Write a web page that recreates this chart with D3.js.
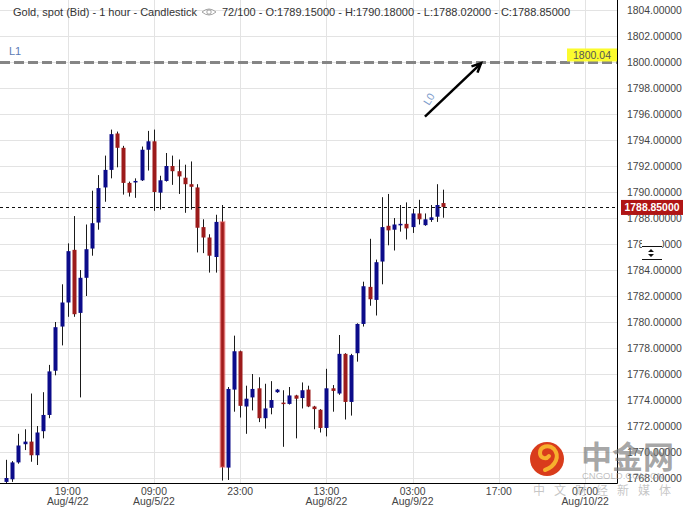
<!DOCTYPE html>
<html><head><meta charset="utf-8">
<script src="https://cdn.jsdelivr.net/npm/d3@7"></script>
<style>
html,body{margin:0;padding:0;background:#fff;}
svg{display:block;font-family:"Liberation Sans",Arial,sans-serif;}
</style></head>
<body>
<svg id="chart" width="686" height="508"></svg>
<script>
// ---- data (hourly candles, Gold spot Bid) ----
const opens  = [1767.7,1767.9,1769.2,1770.6,1770.8,1769.75,1771.6,1772.85,1776.25,1779.65,
  1781.5,1785.55,1780.7,1783.4,1785.65,1787.65,1790.35,1791.7,1794.5,1793.4,
  1790.7,1790.8,1790.9,1793.25,1793.9,1789.95,1790.85,1792.0,1791.6,1791.1,
  1790.6,1790.35,1787.3,1786.5,1785.0,1787.7,1768.8,1774.8,1777.75,1773.5,
  1774.2,1774.9,1772.6,1773.4,1774.6,1773.8,1773.7,1774.35,1774.15,1774.8,
  1773.5,1773.25,1771.85,1774.9,1774.5,1777.55,1773.85,1777.6,1779.85,1782.7,
  1781.7,1784.65,1787.4,1787.1,1787.5,1787.55,1787.3,1788.35,1787.45,1787.85,
  1788.1,1789.15];
const highs  = [1769.4,1769.3,1771.4,1771.75,1774.5,1772.0,1774.6,1776.7,1780.0,1782.9,
  1786.05,1788.15,1784.0,1787.5,1790.1,1791.3,1792.8,1794.8,1794.65,1793.55,
  1790.8,1791.05,1793.5,1794.7,1794.8,1791.25,1793.0,1792.8,1792.5,1792.1,
  1792.35,1790.6,1787.9,1786.75,1788.25,1789.0,1775.0,1778.95,1777.8,1775.1,
  1776.0,1775.75,1775.25,1775.45,1774.85,1774.75,1775.0,1774.4,1775.35,1775.1,
  1773.55,1773.3,1776.4,1775.15,1779.0,1777.6,1777.55,1779.9,1783.1,1786.4,
  1784.8,1789.6,1789.85,1788.0,1789.0,1789.2,1788.7,1789.4,1788.35,1789.0,
  1790.6,1790.18];
const lows   = [1767.6,1767.7,1769.1,1770.15,1769.25,1769.0,1771.05,1772.6,1775.9,1778.2,
  1780.4,1780.4,1774.2,1782.0,1785.1,1787.1,1789.25,1791.05,1791.9,1789.8,
  1789.65,1789.55,1790.85,1791.65,1788.55,1788.65,1790.8,1790.55,1789.85,1788.4,
  1788.65,1785.35,1785.3,1783.8,1783.8,1767.8,1767.85,1773.1,1772.65,1771.4,
  1773.2,1772.3,1771.8,1772.9,1774.55,1770.4,1773.65,1771.05,1773.35,1773.45,
  1771.75,1771.5,1771.2,1773.1,1774.4,1772.5,1772.8,1776.95,1779.65,1781.25,
  1780.5,1782.9,1785.9,1785.5,1786.95,1786.35,1786.85,1787.5,1787.4,1787.7,
  1787.7,1788.02];
const closes = [1768.0,1769.2,1770.5,1770.8,1769.75,1771.5,1772.85,1776.2,1779.6,1781.5,
  1785.45,1780.6,1783.4,1785.6,1787.6,1790.3,1791.7,1794.45,1793.4,1790.7,
  1789.95,1790.85,1793.25,1793.9,1790.0,1790.9,1792.0,1791.6,1791.2,1790.6,
  1790.4,1787.25,1786.5,1785.1,1787.7,1768.85,1774.85,1777.75,1773.55,1774.1,
  1774.85,1772.6,1773.35,1774.0,1774.8,1773.7,1774.35,1774.1,1774.75,1773.5,
  1773.3,1771.85,1774.9,1774.7,1777.55,1773.85,1777.45,1779.85,1782.75,1781.75,
  1784.6,1787.3,1787.05,1787.5,1787.55,1787.2,1788.35,1787.9,1787.9,1788.05,
  1789.0,1788.85];

const slotCount = 100;
const xTickIdx   = [10, 24, 38, 52, 66, 80, 94];
const xTickTimes = ["19:00","09:00","23:00","13:00","03:00","17:00","07:00"];
const xTickDates = ["Aug/4/22","Aug/5/22","","Aug/8/22","Aug/9/22","","Aug/10/22"];
const yTicks = d3.range(1768, 1804.01, 2);
const lastPrice = 1788.85;
const levelL1 = 1800.04;
const arrowL0 = [[68.0, 1795.8], [77.1, 1799.9]];
const highlightIndex = 35;
const headerLeft  = "Gold, spot (Bid) - 1 hour - Candlestick";
const headerRight = "72/100 - O:1789.15000 - H:1790.18000 - L:1788.02000 - C:1788.85000";

// ---- layout ----
const plotL = 0, plotR = 617, plotT = 0, plotB = 483;
const svg = d3.select("#chart");
const x = d3.scaleLinear().domain([-0.5, slotCount - 0.5]).range([3, 619]);
const y = d3.scaleLinear().domain([1768, 1804]).range([478, 10]);
const BLUE = "#0c0c8a", RED = "#9c1b1b";

svg.append("defs").append("clipPath").attr("id","plotclip")
  .append("rect").attr("x",plotL).attr("y",plotT).attr("width",plotR-plotL).attr("height",plotB-plotT);

// grid
const grid = svg.append("g");
grid.selectAll("line.h").data(yTicks).join("line")
  .attr("x1",plotL).attr("x2",plotR).attr("y1",d=>y(d)+0.5).attr("y2",d=>y(d)+0.5)
  .attr("stroke","#e3e3e3").attr("stroke-width",1);
grid.selectAll("line.v").data(xTickIdx).join("line")
  .attr("x1",d=>Math.round(x(d))+0.5).attr("x2",d=>Math.round(x(d))+0.5)
  .attr("y1",plotT).attr("y2",plotB).attr("stroke","#e3e3e3").attr("stroke-width",1);

// header
svg.append("text").attr("x",13).attr("y",16).attr("font-size",11).attr("fill","#333").text(headerLeft);
const eye = svg.append("g").attr("transform","translate(209,12)");
eye.append("path").attr("d","M-7,0 Q0,-6 7,0 Q0,6 -7,0 Z").attr("fill","none").attr("stroke","#999").attr("stroke-width",0.9);
eye.append("circle").attr("r",2.2).attr("fill","none").attr("stroke","#999").attr("stroke-width",0.9);
svg.append("text").attr("x",222).attr("y",16).attr("font-size",11).attr("fill","#333").text(headerRight);

// candles
const data = opens.map((o,i)=>({i, o, h:highs[i], l:lows[i], c:closes[i]}));
const cg = svg.append("g").attr("clip-path","url(#plotclip)");
cg.selectAll("line.wick").data(data).join("line")
  .attr("x1",d=>Math.round(x(d.i))+0.5).attr("x2",d=>Math.round(x(d.i))+0.5)
  .attr("y1",d=>y(d.h)).attr("y2",d=>y(d.l)).attr("stroke","#1a1a1a").attr("stroke-width",1);
cg.selectAll("rect.body").data(data).join("rect")
  .attr("x",d=>Math.round(x(d.i))-1.5).attr("width",4)
  .attr("y",d=>y(Math.max(d.o,d.c)))
  .attr("height",d=>Math.max(1.5, Math.abs(y(d.o)-y(d.c))))
  .attr("fill",d=>d.c>=d.o?BLUE:RED)
  .attr("stroke",d=>d.i===highlightIndex?"rgba(235,90,90,0.45)":"none")
  .attr("stroke-width",d=>d.i===highlightIndex?2:0);

// last price dashed line
svg.append("line").attr("x1",plotL).attr("x2",plotR).attr("y1",Math.round(y(lastPrice))+0.5).attr("y2",Math.round(y(lastPrice))+0.5)
  .attr("stroke","#111").attr("stroke-width",1).attr("stroke-dasharray","3,3");

// L1 level line
svg.append("line").attr("x1",plotL).attr("x2",plotR).attr("y1",y(levelL1)+1).attr("y2",y(levelL1)+1)
  .attr("stroke","#858585").attr("stroke-width",3).attr("stroke-dasharray","10,4");
svg.append("text").attr("x",9).attr("y",55).attr("font-size",11).attr("fill","#5b7bb5").text("L1");
svg.append("rect").attr("x",567).attr("y",y(levelL1)-13).attr("width",50).attr("height",13).attr("fill","#fbfb2e");
svg.append("text").attr("x",592).attr("y",y(levelL1)-2.5).attr("text-anchor","middle").attr("font-size",10.5).attr("fill","#555").text(levelL1.toFixed(2));

// L0 arrow
const ax1 = x(arrowL0[0][0]), ay1 = y(arrowL0[0][1]), ax2 = x(arrowL0[1][0]), ay2 = y(arrowL0[1][1]);
svg.append("line").attr("x1",ax1).attr("y1",ay1).attr("x2",ax2).attr("y2",ay2).attr("stroke","#000").attr("stroke-width",2.5);
const ang = Math.atan2(ay2-ay1, ax2-ax1);
const hl = 10;
svg.append("path").attr("d",
  `M${ax2-hl*Math.cos(ang-0.45)},${ay2-hl*Math.sin(ang-0.45)} L${ax2},${ay2} L${ax2-hl*Math.cos(ang+0.45)},${ay2-hl*Math.sin(ang+0.45)}`)
  .attr("fill","none").attr("stroke","#000").attr("stroke-width",2.5);
svg.append("text").attr("transform",`translate(429,106) rotate(-58)`).attr("font-size",10.5).attr("fill","#7d9ccc").text("L0");

// axes
svg.append("line").attr("x1",plotR+0.5).attr("x2",plotR+0.5).attr("y1",0).attr("y2",plotB+0.5).attr("stroke","#000");
svg.append("line").attr("x1",0).attr("x2",plotR+0.5).attr("y1",plotB+0.5).attr("y2",plotB+0.5).attr("stroke","#000");

const yAxis = svg.append("g");
yAxis.selectAll("text").data(yTicks).join("text")
  .attr("x",627).attr("y",d=>y(d)+4).attr("font-size",10.4).attr("fill","#444").text(d=>d.toFixed(5));

const xAxis = svg.append("g");
xAxis.selectAll("text.t").data(xTickIdx).join("text")
  .attr("x",d=>x(d)).attr("y",495).attr("text-anchor","middle").attr("font-size",10.4).attr("fill","#444")
  .text((d,k)=>xTickTimes[k]);
xAxis.selectAll("text.d").data(xTickIdx).join("text")
  .attr("x",d=>x(d)).attr("y",505).attr("text-anchor","middle").attr("font-size",10.4).attr("fill","#444")
  .text((d,k)=>xTickDates[k]);

// last price badge
svg.append("rect").attr("x",621).attr("y",y(lastPrice)-7).attr("width",62).attr("height",15).attr("fill","#b01515");
svg.append("text").attr("x",652).attr("y",y(lastPrice)+4).attr("text-anchor","middle").attr("font-size",10.4)
  .attr("font-weight","bold").attr("fill","#fff").text(lastPrice.toFixed(5));

// resize handle over 1786 label
svg.append("rect").attr("x",642).attr("y",238).attr("width",20).attr("height",22).attr("fill","#fff");
svg.append("line").attr("x1",642).attr("x2",662).attr("y1",246.5).attr("y2",246.5).attr("stroke","#111");
svg.append("line").attr("x1",642).attr("x2",662).attr("y1",259.5).attr("y2",259.5).attr("stroke","#111");
svg.append("path").attr("d","M648,252 L651,249 L654,252 Z M648,254 L651,257 L654,254 Z").attr("fill","#111");

// watermark
const wm = svg.append("g");
wm.append("circle").attr("cx",547).attr("cy",459).attr("r",17).attr("fill","#d93c1c");
wm.append("path").attr("d","M545,470 C556,466 560,456 554,449 C549,444 540,446 540,453 C540,458 546,460 549,456")
  .attr("fill","none").attr("stroke","#f7b02d").attr("stroke-width",4).attr("stroke-linecap","round");
wm.append("text").attr("x",581).attr("y",468).attr("font-size",31).attr("font-weight","bold")
  .attr("font-family","Noto Sans CJK SC").attr("fill","rgba(115,115,115,0.65)").text("中金网");
wm.append("text").attr("x",582).attr("y",479).attr("font-size",9.5).attr("fill","rgba(150,150,150,0.6)").text("CNGOLD.COM.CN");
wm.append("text").attr("x",533).attr("y",495).attr("font-size",12).attr("letter-spacing",9)
  .attr("font-family","Noto Sans CJK SC").attr("fill","rgba(160,160,160,0.6)").text("中文财经新媒体");
</script>
</body></html>
